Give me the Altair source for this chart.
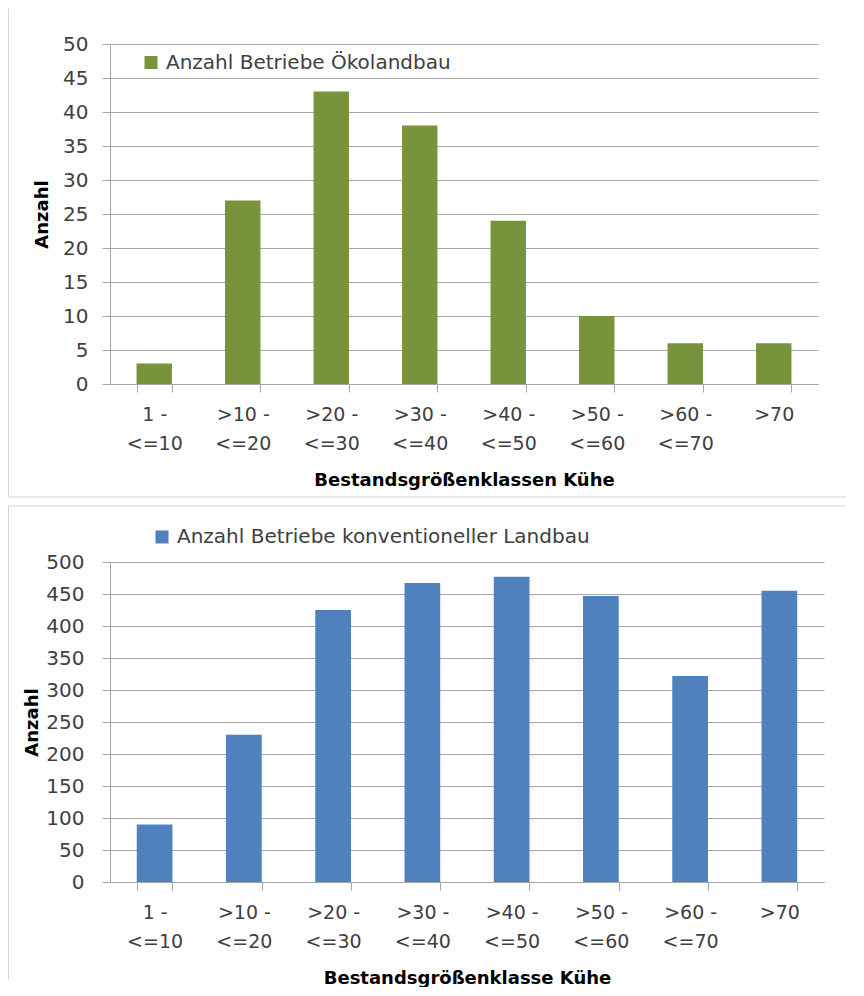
import altair as alt
import pandas as pd

# ---- data ----
categories = ["1 -|<=10", ">10 -|<=20", ">20 -|<=30", ">30 -|<=40",
              ">40 -|<=50", ">50 -|<=60", ">60 -|<=70", ">70"]
oeko_values = [3, 27, 43, 38, 24, 10, 6, 6]
konv_values = [90, 230, 425, 467, 477, 447, 322, 455]
oeko_series = "Anzahl Betriebe Ökolandbau"
konv_series = "Anzahl Betriebe konventioneller Landbau"
oeko_ticks = [0, 5, 10, 15, 20, 25, 30, 35, 40, 45, 50]
konv_ticks = [0, 50, 100, 150, 200, 250, 300, 350, 400, 450, 500]
oeko_xtitle = "Bestandsgrößenklassen Kühe"
konv_xtitle = "Bestandsgrößenklasse Kühe"
ytitle = "Anzahl"

FONT = "DejaVu Sans"
GRID = "#A6A6A6"
FRAME = "#D4D4D4"
LABEL = "#404040"


def panel(values, series, color, ticks, ymax, xtitle, width, height,
          legend_x, legend_y, ylabel_pad, ytitle_pad, xlabel_pad, xtitle_pad,
          vrule_y, vrule_y2, hrule_y, hrule_x, hrule_x2):
    df = pd.DataFrame({"cat": categories, "val": values, "series": [series] * len(values)})
    bars = alt.Chart(df).mark_bar().encode(
        x=alt.X("cat:N", sort=categories,
                scale=alt.Scale(paddingInner=0.6, paddingOuter=0.3),
                axis=alt.Axis(title=xtitle, labelExpr="split(datum.label, '|')",
                              labelAngle=0, tickBand="extent", tickSize=8,
                              tickColor=GRID, domainColor=GRID, grid=False,
                              labelFont=FONT, labelFontSize=19, labelColor=LABEL,
                              labelLineHeight=29, labelPadding=xlabel_pad,
                              titleFont=FONT, titleFontSize=18, titleFontWeight="bold",
                              titleColor="black", titlePadding=xtitle_pad)),
        y=alt.Y("val:Q", scale=alt.Scale(domain=[0, ymax], nice=False),
                axis=alt.Axis(values=ticks, title=ytitle, tickSize=8,
                              tickColor=GRID, domainColor=GRID, gridColor=GRID,
                              labelFont=FONT, labelFontSize=20, labelColor=LABEL,
                              labelPadding=ylabel_pad,
                              titleFont=FONT, titleFontSize=18, titleFontWeight="bold",
                              titleColor="black", titlePadding=ytitle_pad)),
        color=alt.Color("series:N", scale=alt.Scale(domain=[series], range=[color]),
                        legend=alt.Legend(orient="none", legendX=legend_x, legendY=legend_y,
                                          title=None, symbolType="square", symbolSize=169,
                                          symbolStrokeWidth=0, labelFont=FONT,
                                          labelFontSize=20, labelColor=LABEL,
                                          labelLimit=0, labelOffset=5, padding=0)),
    )
    frame_data = alt.Data(values=[{"f": 1}])
    vrule = alt.Chart(frame_data).mark_rule(color=FRAME, strokeWidth=1).encode(
        x=alt.value(-101.5), y=alt.value(vrule_y), y2=alt.value(vrule_y2))
    hrule = alt.Chart(frame_data).mark_rule(color=FRAME, strokeWidth=1).encode(
        x=alt.value(hrule_x), x2=alt.value(hrule_x2), y=alt.value(hrule_y))
    return alt.layer(bars, vrule, hrule).properties(width=width, height=height)


top = panel(oeko_values, oeko_series, "#77933C", oeko_ticks, 50, oeko_xtitle,
            708, 340, 31, 8.5, 14, 11, 13, 18,
            -35.5, 453, 453, -101.5, 736)
bottom = panel(konv_values, konv_series, "#4F81BD", konv_ticks, 500, konv_xtitle,
               714, 320, 42, -35, 18, 4, 13, 18,
               -56, 417, -56, -101.5, 736)

chart = alt.vconcat(top, bottom, spacing=7).resolve_scale(
    x="independent", y="independent", color="independent"
).resolve_legend(color="independent").properties(
    padding=0, background="white"
).configure_view(stroke=None)

chart.save("out.html", embed_options={"renderer": "svg", "actions": False})
